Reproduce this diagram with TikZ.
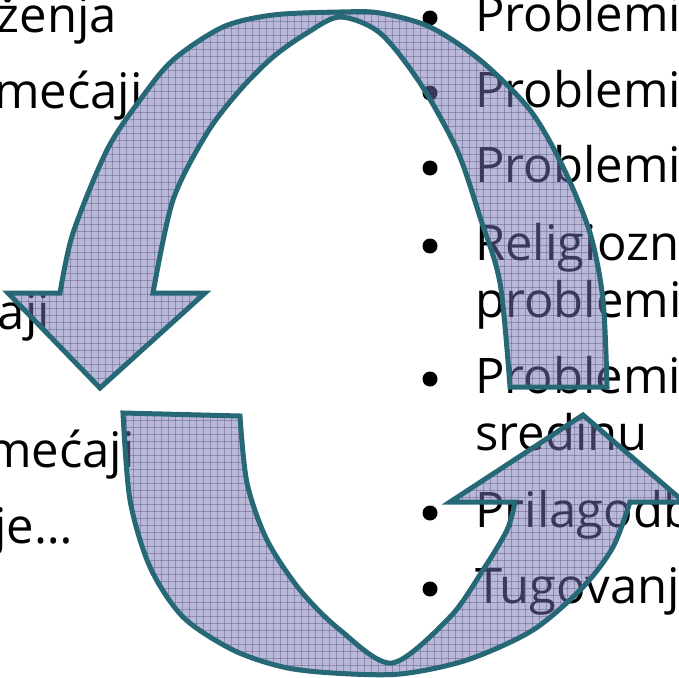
\documentclass[tikz,border=0pt]{standalone}
\usepackage{fontspec}
\setmainfont{Open Sans}
\definecolor{bandcol}{RGB}{115,115,175}
\definecolor{gridcol}{RGB}{60,60,120}
\definecolor{edgecol}{RGB}{38,104,118}
\newcommand\toparrowpath{(8,293) -- (100,388) -- (205,293) -- (153,293) -- plot[smooth] coordinates {(153,293) (173,200) (207,133) (240,90) (273,57) (307,33) (340,17) (380,33) (420,83) (457,150) (480,217) (500,283) (510,387)} -- (607,387) -- plot[smooth] coordinates {(607,387) (603,300) (590,233) (563,167) (530,110) (480,60) (430,27) (380,13) (340,12) (273,15) (223,27) (173,60) (140,100) (107,150) (73,233) (60,293)} -- cycle}
\newcommand\botarrowpath{(123,413) -- (240,416) -- plot[smooth] coordinates {(240,416) (247,483) (267,540) (300,590) (340,630) (392,663) (450,617) (483,570) (507,530) (515,502)} -- (450,502) -- (583,415) -- (684,502) -- (630,502) -- plot[smooth] coordinates {(630,502) (613,547) (583,587) (533,630) (467,660) (400,674) (333,673) (283,667) (233,650) (183,617) (150,567) (130,500) (123,413)} -- cycle}
\begin{document}
\begin{tikzpicture}[x=1pt,y=-1pt,
  txt/.style={font=\fontsize{49}{49}\selectfont, inner sep=0pt, text=black},
  bandfill/.style={fill=bandcol, fill opacity=0.5},
  bandedge/.style={draw=edgecol, line width=5pt, line join=miter},
  gridln/.style={draw=gridcol, line width=0.9pt, draw opacity=0.35}]
\useasboundingbox (0,0) rectangle (679,677);
\clip (0,0) rectangle (679,677);
% left column (cut off)
\node[txt, anchor=base east] (l1) at (117,33) {loženja};
\node[txt, anchor=base east] (l2) at (143,108) {Poremećaji};
\node[txt, anchor=base east] (l3) at (50,329) {aji};
\node[txt, anchor=base east] (l4) at (135,467) {Poremećaji};
\node[txt, anchor=base east] (l5) at (73,543) {je…};
% right column
\node[txt, anchor=base west] (r1) at (475,32) {Problemi};
\node[txt, anchor=base west] (r2) at (475,107) {Problemi};
\node[txt, anchor=base west] (r3) at (475,182) {Problemi};
\node[txt, anchor=base west] (r4) at (475,260) {Religiozni};
\node[txt, anchor=base west] (r5) at (475,317) {problemi};
\node[txt, anchor=base west] (r6) at (475,393) {Problemi};
\node[txt, anchor=base west] (r7) at (475,450) {sredinu};
\node[txt, anchor=base west] (r8) at (475,527) {Prilagodba};
\node[txt, anchor=base west] (r9) at (475,603) {Tugovanje};
\foreach \yb in {32,107,182,260,393,527,603}
  \fill (430,\yb-14) circle (7.5);
% top arrow
\path[bandfill] \toparrowpath;
\begin{scope}
  \clip \toparrowpath;
  \foreach \g in {0,7,...,679} {
    \draw[gridln] (\g,0) -- (\g,677);
    \draw[gridln] (0,\g) -- (679,\g);
  }
\end{scope}
\path[bandedge] \toparrowpath;
% bottom arrow
\path[bandfill] \botarrowpath;
\begin{scope}
  \clip \botarrowpath;
  \foreach \g in {0,7,...,679} {
    \draw[gridln] (\g,0) -- (\g,677);
    \draw[gridln] (0,\g) -- (679,\g);
  }
\end{scope}
\path[bandedge] \botarrowpath;
\end{tikzpicture}
\end{document}
